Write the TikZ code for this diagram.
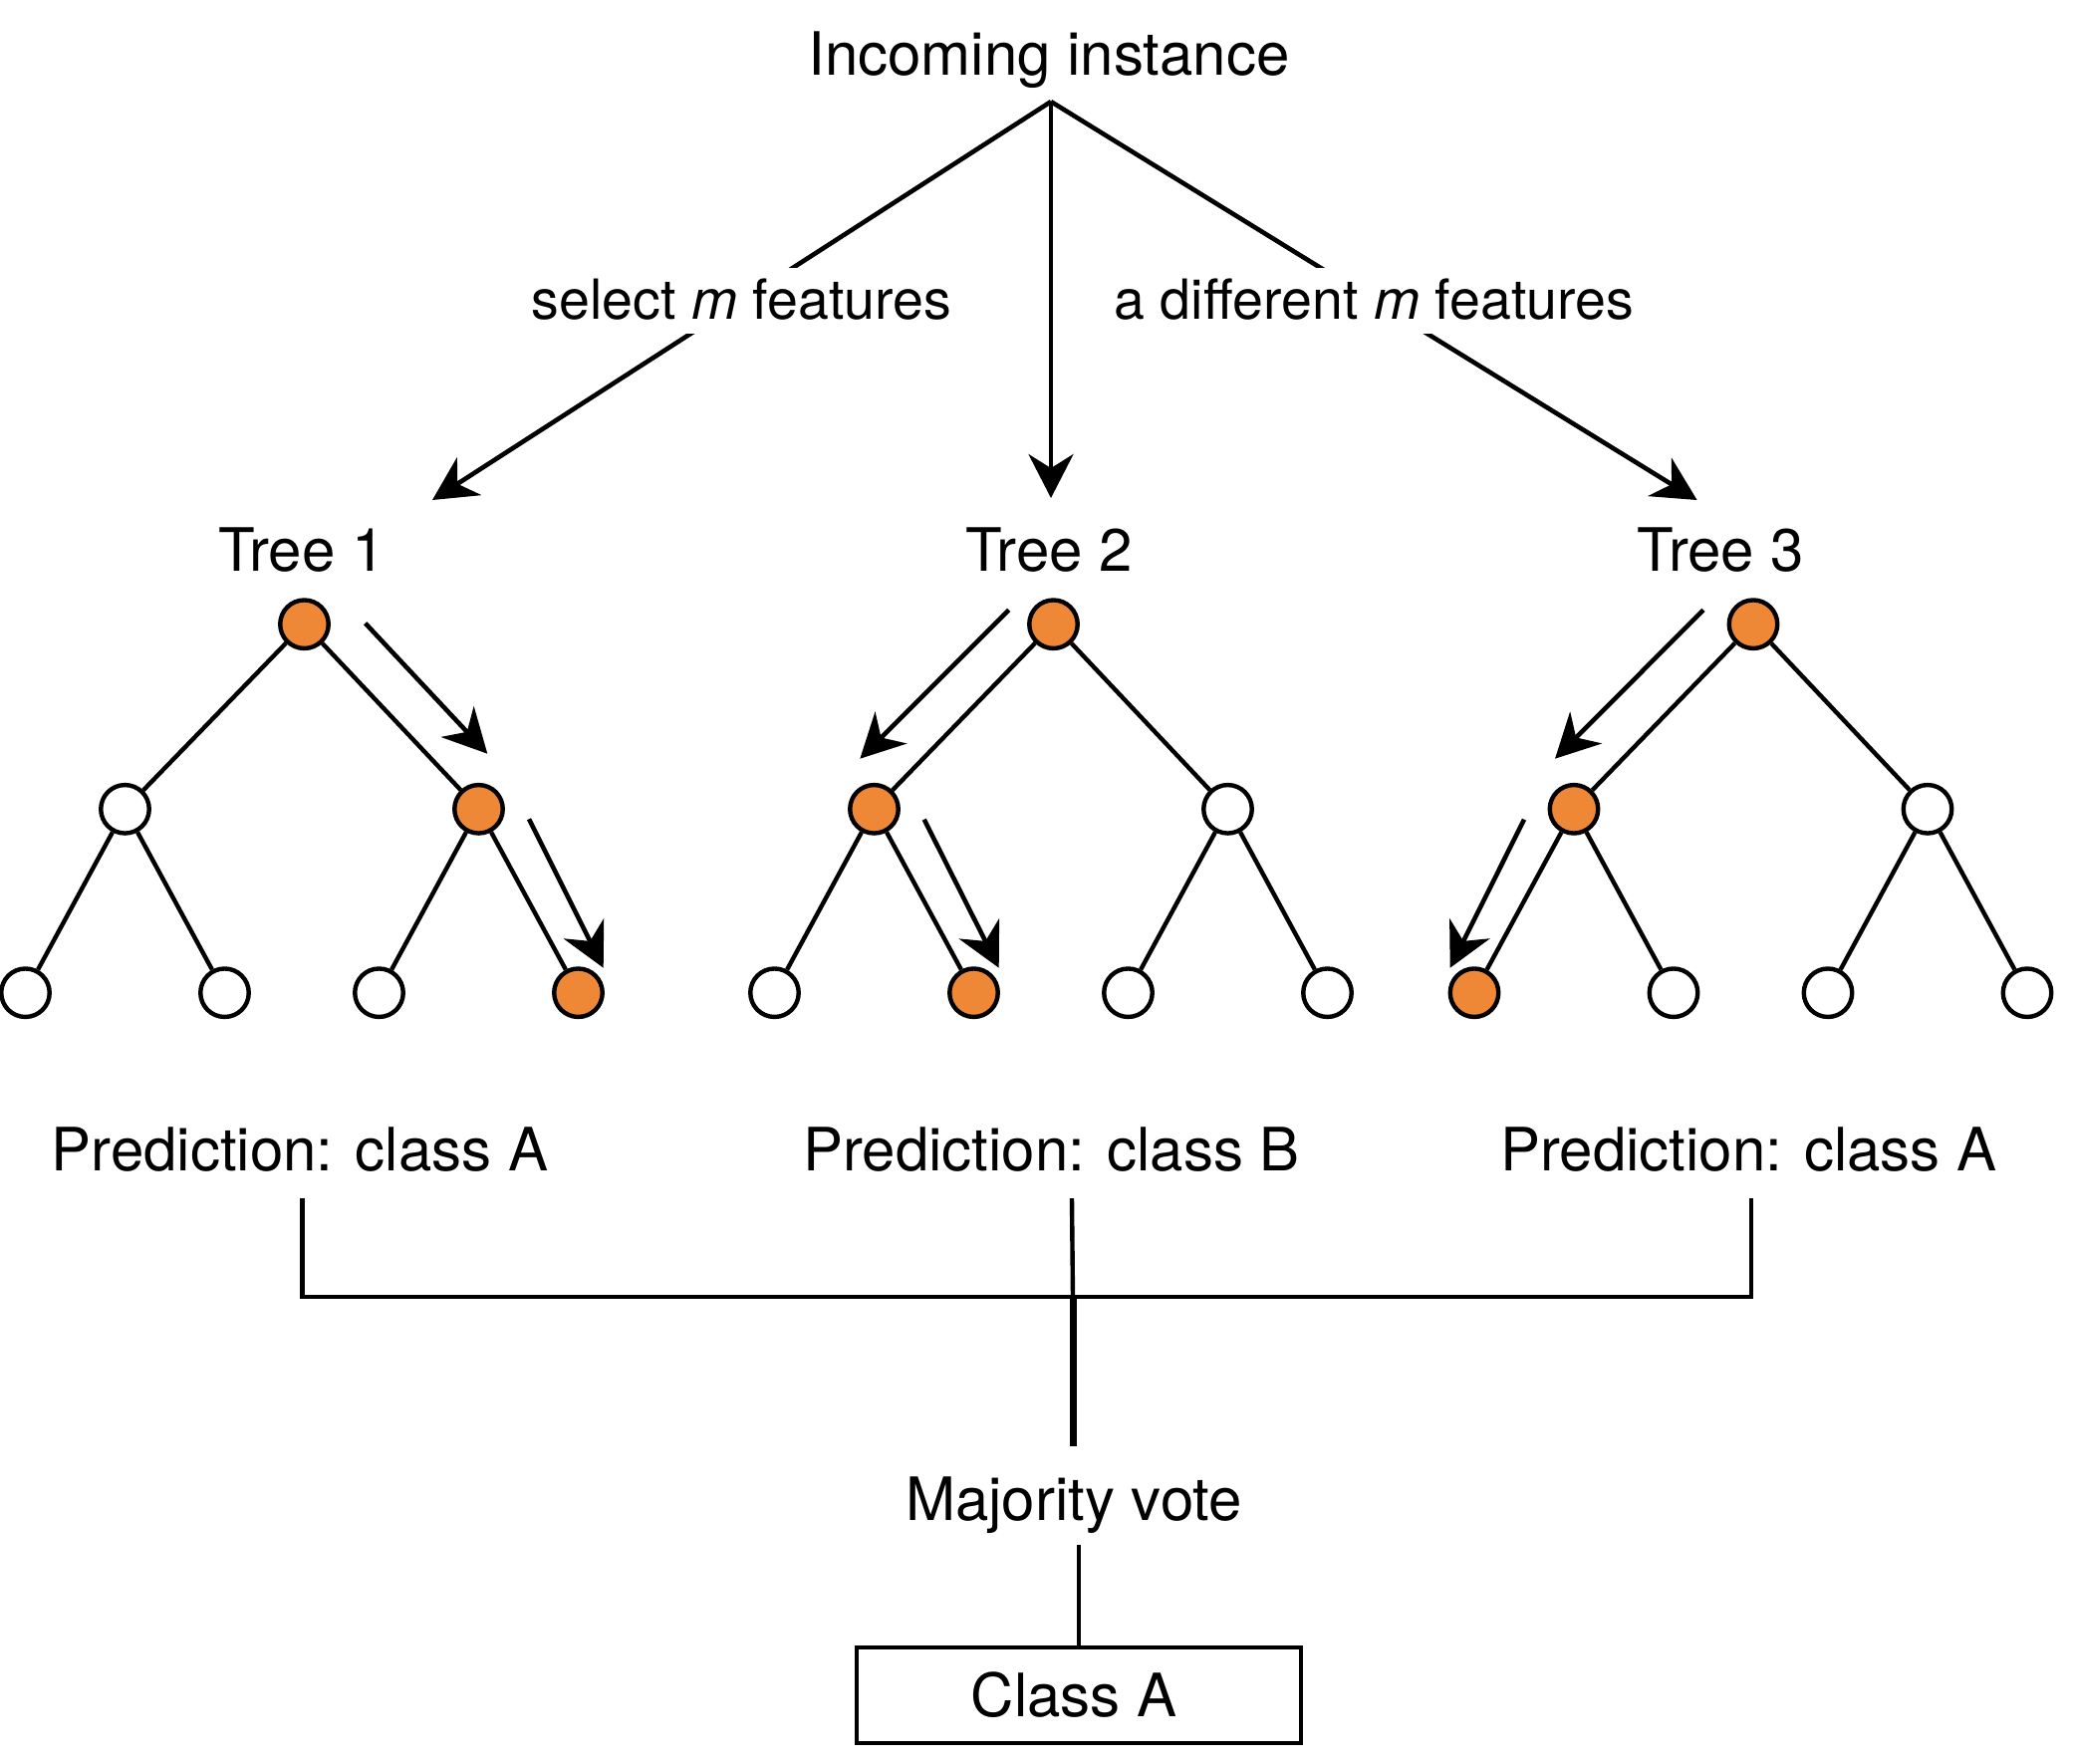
\documentclass[tikz,border=0pt]{standalone}
\usepackage{fontspec}
\setmainfont{TeX Gyre Heros}
\usetikzlibrary{arrows.meta}
\definecolor{nodeorange}{RGB}{239,136,54}
\begin{document}
\begin{tikzpicture}[x=1pt,y=-1pt,
  every node/.style={font=\fontsize{60}{72}\selectfont},
  tn/.style={circle, draw, line width=4.4pt, minimum size=48.5pt, inner sep=0pt, fill=white},
  on/.style={tn, fill=nodeorange},
  edgeln/.style={line width=4.4pt},
  arr/.style={line width=4.6pt, -{Stealth[length=44pt,width=45pt,inset=14pt]}},
  lbl/.style={anchor=base, inner sep=0pt},
  midlbl/.style={fill=white, inner sep=0pt, text height=51pt, text depth=15pt, font=\fontsize{55.5}{66}\selectfont},
]
\useasboundingbox (0,0) rectangle (2082,1770);

% top labels
\node[lbl] (inc) at (1053,75) {Incoming instance};
\coordinate (apex) at (1055,102);
\coordinate (in1) at (434,502);
\coordinate (in2) at (1055,500);
\coordinate (in3) at (1703.6,502);
\draw[arr] (apex) -- node[midlbl, pos=0.5] (lsel) {select {\itshape m} features} (in1);
\draw[arr] (apex) -- (in2);
\draw[arr] (apex) -- node[midlbl, pos=0.5] (ldiff) {a different {\itshape m} features} (in3);

\node[lbl] (t1) at (302.7,573) {Tree 1};
\node[lbl] (t2) at (1053,573) {Tree 2};
\node[lbl] (t3) at (1727.5,573) {Tree 3};

% Tree 1
\node[on] (r1) at (305.5,626.7) {};
\node[tn] (a1) at (125.5,812.3) {};
\node[on] (b1) at (480.5,812.3) {};
\node[tn] (l11) at (25.5,996.7) {};
\node[tn] (l12) at (225.5,996.7) {};
\node[tn] (l13) at (380.5,996.7) {};
\node[on] (l14) at (580.5,996.7) {};
% Tree 2
\node[on] (r2) at (1057.5,626.7) {};
\node[on] (a2) at (877.5,812.3) {};
\node[tn] (b2) at (1232.5,812.3) {};
\node[tn] (l21) at (777.5,996.7) {};
\node[on] (l22) at (977.5,996.7) {};
\node[tn] (l23) at (1132.5,996.7) {};
\node[tn] (l24) at (1332.5,996.7) {};
% Tree 3
\node[on] (r3) at (1760,626.7) {};
\node[on] (a3) at (1580,812.3) {};
\node[tn] (b3) at (1935,812.3) {};
\node[on] (l31) at (1480,996.7) {};
\node[tn] (l32) at (1680,996.7) {};
\node[tn] (l33) at (1835,996.7) {};
\node[tn] (l34) at (2035,996.7) {};

\foreach \t in {1,2,3}{
  \draw[edgeln] (r\t) -- (a\t);
  \draw[edgeln] (r\t) -- (b\t);
  \draw[edgeln] (a\t) -- (l\t1);
  \draw[edgeln] (a\t) -- (l\t2);
  \draw[edgeln] (b\t) -- (l\t3);
  \draw[edgeln] (b\t) -- (l\t4);
}

% traversal arrows
\coordinate (s11) at (366.7,625.7); \coordinate (e11) at (489.3,756.7);
\coordinate (s12) at (531,822.3);   \coordinate (e12) at (605.7,971.7);
\coordinate (s21) at (1012.7,612.3); \coordinate (e21) at (863.3,761.7);
\coordinate (s22) at (927.7,822.7);  \coordinate (e22) at (1002.7,971.7);
\coordinate (s31) at (1710,612.3);   \coordinate (e31) at (1561,761.7);
\coordinate (s32) at (1530,822.7);   \coordinate (e32) at (1455.7,971.7);
\foreach \t in {1,2,3}{
  \draw[arr] (s\t1) -- (e\t1);
  \draw[arr] (s\t2) -- (e\t2);
}

% predictions
\node[lbl] (p1) at (301,1175) {Prediction: class A};
\node[lbl] (p2) at (1055.6,1175) {Prediction: class B};
\node[lbl] (p3) at (1755.4,1175) {Prediction: class A};

\coordinate (v1) at (303.3,1203);
\coordinate (v2) at (1076,1203);
\coordinate (v3) at (1758,1203);
\coordinate (jl) at (303.3,1301.7);
\coordinate (jm) at (1077,1301.7);
\coordinate (jr) at (1758,1301.7);
\coordinate (tk) at (1077,1451.7);
\draw[edgeln] (v1) -- (jl) -- (jr) -- (v3);
\draw[edgeln] (v2) -- (jm);
\draw[line width=7pt] (jm) -- (tk);

\node[lbl] (vote) at (1078,1526) {Majority vote};
\coordinate (vb) at (1082.7,1551);
\node[draw, line width=4.4pt, minimum width=446pt, minimum height=95.5pt, inner sep=0pt] (cls) at (1082.7,1702) {\hspace*{-9pt}Class A};
\draw[edgeln] (vb) -- (cls.north);
\end{tikzpicture}
\end{document}
